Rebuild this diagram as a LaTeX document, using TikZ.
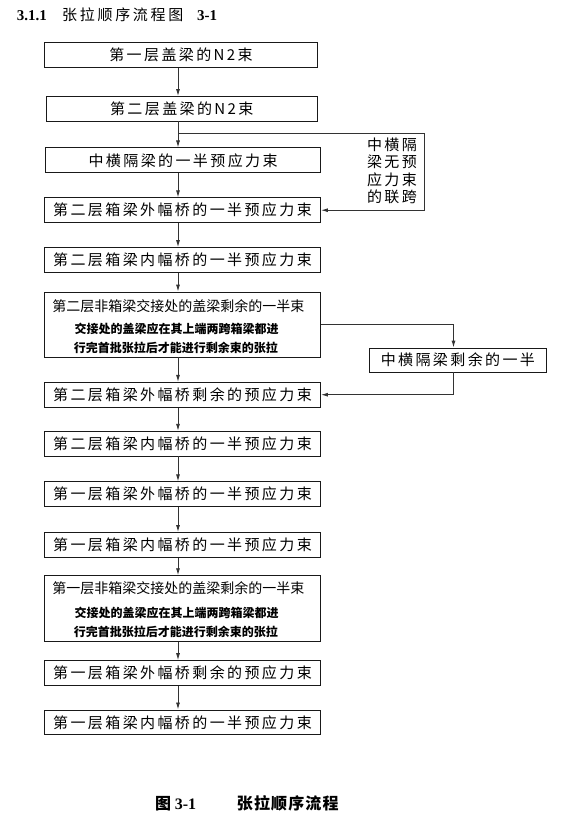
\documentclass[tikz,border=0pt]{standalone}
\usepackage{fontspec}
\setmainfont{Noto Sans CJK SC}
\newfontfamily\boxfont[LetterSpace=16]{Noto Sans CJK SC}
\newfontfamily\titlecjk[LetterSpace=18]{Noto Sans CJK SC}
\newfontfamily\capcjk[LetterSpace=7]{Noto Sans CJK SC}
\newfontfamily\latinserif{Liberation Serif}
\usetikzlibrary{arrows.meta}
\tikzset{
  flowbox/.style={draw=black!90, line width=0.9pt, inner sep=0pt, minimum height=24.7pt, minimum width=276pt,
    font=\boxfont\fontsize{15}{18}\selectfont},
  plaintext/.style={inner sep=0pt},
  arr/.style={draw=black!80, line width=0.9pt, -{Latex[length=7pt,width=4pt]}},
  bigline/.style={plaintext, font=\fontsize{14}{14}\selectfont},
  smallline/.style={plaintext, font=\bfseries\fontsize{12}{12}\selectfont},
  titleserif/.style={plaintext, anchor=base west, font=\latinserif\bfseries\fontsize{15}{15}\selectfont},
}
\begin{document}
\begin{tikzpicture}[x=1pt,y=-1pt]
\path[fill=white, use as bounding box] (0,0) rectangle (576,826);

% title
\node[titleserif] (ta) at (16.7,20.5) {3.1.1};
\node[plaintext, anchor=base west, font=\titlecjk\fontsize{15}{15}\selectfont] (tb) at (62,20.5) {张拉顺序流程图};
\node[titleserif] (tc) at (197,20.5) {3-1};

% main column
\node[flowbox, minimum width=273pt] (b1) at (181,54.8) {第一层盖梁的N2束};
\node[flowbox, minimum width=271.5pt, minimum height=24.5pt] (b2) at (181.75,108.75) {第二层盖梁的N2束};
\node[flowbox, minimum width=274.8pt] (b3) at (183.1,160.3) {中横隔梁的一半预应力束};
\node[flowbox] (b4) at (182.5,210.2) {第二层箱梁外幅桥的一半预应力束};
\node[flowbox] (b5) at (182.5,259.9) {第二层箱梁内幅桥的一半预应力束};
\node[flowbox, minimum height=65pt] (b6) at (182.5,324.5) {};
\node[bigline] (b6a) at (178.4,306) {第二层非箱梁交接处的盖梁剩余的一半束};
\node[smallline] (b6b) at (176.5,328.7) {交接处的盖梁应在其上端两跨箱梁都进};
\node[smallline] (b6c) at (175.8,348) {行完首批张拉后才能进行剩余束的张拉};
\node[flowbox] (b8) at (182.5,394.7) {第二层箱梁外幅桥剩余的预应力束};
\node[flowbox] (b9) at (182.5,443.6) {第二层箱梁内幅桥的一半预应力束};
\node[flowbox] (b10) at (182.5,494.2) {第一层箱梁外幅桥的一半预应力束};
\node[flowbox] (b11) at (182.5,544.8) {第一层箱梁内幅桥的一半预应力束};
\node[flowbox, minimum height=66pt] (b12) at (182.5,608.7) {};
\node[bigline] (b12a) at (178.4,588) {第一层非箱梁交接处的盖梁剩余的一半束};
\node[smallline] (b12b) at (176.5,613.3) {交接处的盖梁应在其上端两跨箱梁都进};
\node[smallline] (b12c) at (175.8,631.7) {行完首批张拉后才能进行剩余束的张拉};
\node[flowbox] (b13) at (182.5,673) {第一层箱梁外幅桥剩余的预应力束};
\node[flowbox] (b14) at (182.5,722.3) {第一层箱梁内幅桥的一半预应力束};

% side items
\node[plaintext, align=center, font=\boxfont\fontsize{15}{17.3}\selectfont] (t1) at (392,171) {中横隔\\梁无预\\应力束\\的联跨};
\node[flowbox, minimum width=177.7pt, minimum height=24pt] (b7) at (457.9,360) {中横隔梁剩余的一半};

% connectors
\coordinate (ax) at (178,0);
\coordinate (j1) at (178,133);
\coordinate (r1) at (424.5,133);
\coordinate (c2) at (453.5,0);
\draw[arr] (b1.south -| ax) -- (b2.north -| ax);
\draw[arr] (b2.south -| ax) -- (b3.north -| ax);
\draw[arr] (j1) -- (r1) |- (b4.east);
\draw[arr] (b3.south -| ax) -- (b4.north -| ax);
\draw[arr] (b4.south -| ax) -- (b5.north -| ax);
\draw[arr] (b5.south -| ax) -- (b6.north -| ax);
\draw[arr] (b6.south -| ax) -- (b8.north -| ax);
\draw[arr] (b6.east) -| (c2 |- b7.north);
\draw[arr] (c2 |- b7.south) |- (b8.east);
\draw[arr] (b8.south -| ax) -- (b9.north -| ax);
\draw[arr] (b9.south -| ax) -- (b10.north -| ax);
\draw[arr] (b10.south -| ax) -- (b11.north -| ax);
\draw[arr] (b11.south -| ax) -- (b12.north -| ax);
\draw[arr] (b12.south -| ax) -- (b13.north -| ax);
\draw[arr] (b13.south -| ax) -- (b14.north -| ax);

% caption
\node[plaintext, anchor=base west, font=\bfseries\fontsize{16}{16}\selectfont] (ca) at (155,809.5) {图 {\latinserif\bfseries 3-1}};
\node[plaintext, anchor=base west, font=\capcjk\bfseries\fontsize{16}{16}\selectfont] (cb) at (236.7,809.5) {张拉顺序流程};
\end{tikzpicture}
\end{document}
